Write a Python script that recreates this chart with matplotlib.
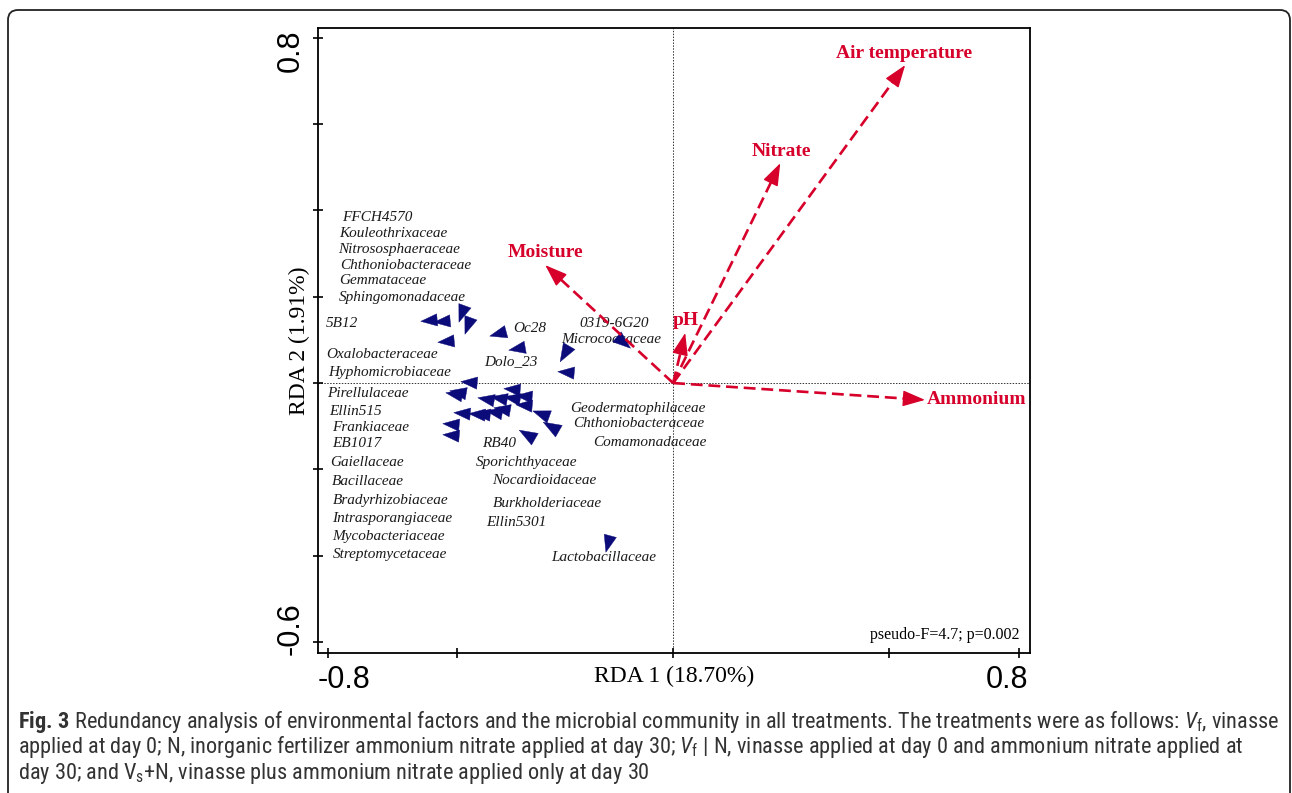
import numpy as np
import matplotlib
matplotlib.use("Agg")
import matplotlib.pyplot as plt
from matplotlib.path import Path
from matplotlib.patches import FancyBboxPatch
from matplotlib.transforms import IdentityTransform
from matplotlib import font_manager

# ---------------- data ----------------
# environmental vectors (RDA1, RDA2)
env_names = ["Air temperature", "Nitrate", "pH", "Moisture", "Ammonium"]
env_x = [0.537, 0.248, 0.028, -0.296, 0.583]
env_y = [0.736, 0.509, 0.116, 0.273, -0.039]

# species scores (arrowhead positions) and pointing angles (deg)
sp_x = [-0.562, -0.532, -0.488, -0.475, -0.523, -0.403, -0.359, -0.250, -0.245, -0.118,
        -0.470, -0.505, -0.495, -0.370, -0.431, -0.400, -0.370, -0.343, -0.343, -0.486,
        -0.451, -0.440, -0.412, -0.394, -0.303, -0.280, -0.512, -0.512, -0.336, -0.150]
sp_y = [0.146, 0.144, 0.164, 0.137, 0.097, 0.116, 0.081, 0.072, 0.025, 0.097,
        0.002, -0.025, -0.021, -0.014, -0.037, -0.035, -0.035, -0.030, -0.051, -0.069,
        -0.072, -0.072, -0.067, -0.060, -0.072, -0.102, -0.095, -0.120, -0.120, -0.368]
sp_angle = [185, 185, 250, 250, 185, 195, 190, 240, 175, 320,
            175, 170, 170, 175, 170, 170, 170, 175, 175, 175,
            175, 175, 170, 170, 160, 150, 175, 175, 150, 255]

# species labels
sp_labels = ["FFCH4570", "Kouleothrixaceae", "Nitrososphaeraceae", "Chthoniobacteraceae",
             "Gemmataceae", "Sphingomonadaceae", "5B12", "Oxalobacteraceae",
             "Hyphomicrobiaceae", "Pirellulaceae", "Ellin515", "Frankiaceae", "EB1017",
             "Gaiellaceae", "Bacillaceae", "Bradyrhizobiaceae", "Intrasporangiaceae",
             "Mycobacteriaceae", "Streptomycetaceae", "Oc28", "0319-6G20", "Micrococcaceae",
             "Dolo_23", "Geodermatophilaceae", "Chthoniobacteraceae", "Comamonadaceae",
             "RB40", "Sporichthyaceae", "Nocardioidaceae", "Burkholderiaceae", "Ellin5301",
             "Lactobacillaceae"]
lab_x = [-0.766, -0.773, -0.775, -0.771, -0.773, -0.773, -0.803, -0.803, -0.799, -0.801,
         -0.796, -0.789, -0.789, -0.794, -0.789, -0.787, -0.789, -0.789, -0.787, -0.370,
         -0.218, -0.259, -0.438, -0.238, -0.231, -0.185, -0.442, -0.456, -0.419, -0.417,
         -0.433, -0.282]
lab_y = [0.384, 0.347, 0.309, 0.273, 0.238, 0.199, 0.139, 0.065, 0.025, -0.025,
         -0.067, -0.104, -0.141, -0.185, -0.227, -0.271, -0.313, -0.356, -0.398, 0.127,
         0.137, 0.100, 0.049, -0.059, -0.094, -0.137, -0.139, -0.185, -0.225, -0.278,
         -0.324, -0.403]

# env label positions
env_lab_x = [0.535, 0.250, 0.030, -0.296, 0.588]
env_lab_y = [0.764, 0.535, 0.144, 0.303, -0.039]
env_lab_ha = ["center", "center", "center", "center", "left"]

xticks = [-0.8, -0.5, 0.0, 0.5, 0.8]
yticks = [-0.6, -0.4, -0.2, 0.0, 0.2, 0.4, 0.6, 0.8]

RED = "#d6002b"
NAVY = "#0b0b7a"

# ---------------- figure ----------------
W, H = 1292, 793
fig = plt.figure(figsize=(W / 100, H / 100), dpi=100)
ax = fig.add_axes([318 / W, 140 / H, 712 / W, 625 / H])
ax.set_xlim(-0.822, 0.826)
ax.set_ylim(-0.625, 0.822)

for s in ax.spines.values():
    s.set_linewidth(1.3)
ax.set_xticks(xticks)
ax.set_yticks(yticks)
ax.set_xticklabels([])
ax.set_yticklabels([])
ax.tick_params(direction="inout", length=7, width=1.2)

ax.axhline(0, color="#333333", lw=0.7, ls=(0, (1.5, 1.5)), zorder=1)
ax.axvline(0, color="#333333", lw=0.7, ls=(0, (1.5, 1.5)), zorder=1)

serif = "Liberation Serif"
sans = "Liberation Sans"

# tick labels (only extremes)
ax.annotate("-0.8", xy=(0, 0), xycoords="axes fraction", xytext=(0, -27),
            textcoords="offset pixels", ha="left", va="center", fontsize=22, family=sans)
ax.annotate("0.8", xy=(1, 0), xycoords="axes fraction", xytext=(-2, -27),
            textcoords="offset pixels", ha="right", va="center", fontsize=22, family=sans)
ax.annotate("0.8", xy=(0, 1), xycoords="axes fraction", xytext=(-27, -2),
            textcoords="offset pixels", ha="center", va="top", rotation=90, fontsize=22, family=sans)
ax.annotate("-0.6", xy=(0, 0), xycoords="axes fraction", xytext=(-27, -2),
            textcoords="offset pixels", ha="center", va="bottom", rotation=90, fontsize=22, family=sans)

ax.annotate("RDA 1 (18.70%)", xy=(0.5, 0), xycoords="axes fraction", xytext=(0, -23),
            textcoords="offset pixels", ha="center", va="center", fontsize=17, family=serif)
ax.annotate("RDA 2 (1.91%)", xy=(0, 0.5), xycoords="axes fraction", xytext=(-19, 0),
            textcoords="offset pixels", ha="center", va="center", rotation=90, fontsize=17, family=serif)
ax.annotate("pseudo-F=4.7; p=0.002", xy=(1, 0), xycoords="axes fraction", xytext=(-11, 18),
            textcoords="offset pixels", ha="right", va="center", fontsize=11.5, family=serif)

# environmental arrows
hl = 19 / 432.0
for x, y in zip(env_x, env_y):
    L = np.hypot(x, y)
    ux, uy = x / L, y / L
    ax.plot([0, x - ux * hl * 0.7], [0, y - uy * hl * 0.7], ls="--", color=RED, lw=1.9,
            dashes=(4.5, 2.2), zorder=4)
    ax.annotate("", xy=(x, y), xytext=(x - ux * hl, y - uy * hl),
                arrowprops=dict(arrowstyle="-|>,head_length=1.4,head_width=0.5",
                                color=RED, lw=1, shrinkA=0, shrinkB=0), zorder=5)
for name, x, y, ha in zip(env_names, env_lab_x, env_lab_y, env_lab_ha):
    ax.text(x, y, name, ha=ha, va="center", color=RED, fontsize=14,
            fontweight="bold", family=serif, zorder=6)

# species arrowheads
base = np.array([[0.8, 0.0], [-0.55, 0.5], [-0.55, -0.5], [0.8, 0.0]])
for x, y, a in zip(sp_x, sp_y, sp_angle):
    t = np.deg2rad(a)
    R = np.array([[np.cos(t), -np.sin(t)], [np.sin(t), np.cos(t)]])
    v = base @ R.T
    m = Path(v, [Path.MOVETO, Path.LINETO, Path.LINETO, Path.CLOSEPOLY])
    ax.plot([x], [y], marker=m, ms=14, color=NAVY, mec=NAVY, mew=0.3, ls="none", zorder=3)

for t, x, y in zip(sp_labels, lab_x, lab_y):
    ax.text(x, y, t, ha="left", va="center", fontsize=11, style="italic",
            family=serif, color="#1a1a1a", zorder=2)

# ---------------- caption & border ----------------
names = {f.name for f in font_manager.fontManager.ttflist}
cap_font = "Liberation Sans"
for cand in ["Liberation Sans Narrow", "Roboto Condensed", "Open Sans Condensed",
             "Noto Sans Condensed"]:
    if cand in names:
        cap_font = cand
        break
plt.rcParams["mathtext.fontset"] = "custom"
plt.rcParams["mathtext.rm"] = cap_font
plt.rcParams["mathtext.it"] = cap_font + ":italic"
plt.rcParams["mathtext.bf"] = cap_font + ":bold"

cap_lines = [
    r"$\mathbf{Fig.\,3}$ Redundancy analysis of environmental factors and the microbial community in all treatments. The treatments were as follows: $\mathit{V}_\mathrm{f}$, vinasse",
    r"applied at day 0; N, inorganic fertilizer ammonium nitrate applied at day 30; $\mathit{V}_\mathrm{f}$ | N, vinasse applied at day 0 and ammonium nitrate applied at",
    r"day 30; and V$_\mathrm{s}$+N, vinasse plus ammonium nitrate applied only at day 30",
]
cap_y = [722, 747, 773]
cap_texts = []
for line, yy in zip(cap_lines, cap_y):
    cap_texts.append(fig.text(18 / W, 1 - yy / H, line, ha="left", va="center", fontsize=12,
                              family=cap_font, color="#333333"))
# fit first caption line to the target width (18 -> 1275 px)
renderer = fig.canvas.get_renderer()
w0 = cap_texts[0].get_window_extent(renderer).width
size = 12 * (1275 - 18) / w0
for t in cap_texts:
    t.set_fontsize(size)

border = FancyBboxPatch((8, -40), 1282, H - 10 + 40, boxstyle="round,pad=0,rounding_size=10",
                        transform=IdentityTransform(), fill=False, ec="#222222", lw=1.3,
                        clip_on=False)
fig.patches.append(border)

fig.savefig("out.png", dpi=100)
